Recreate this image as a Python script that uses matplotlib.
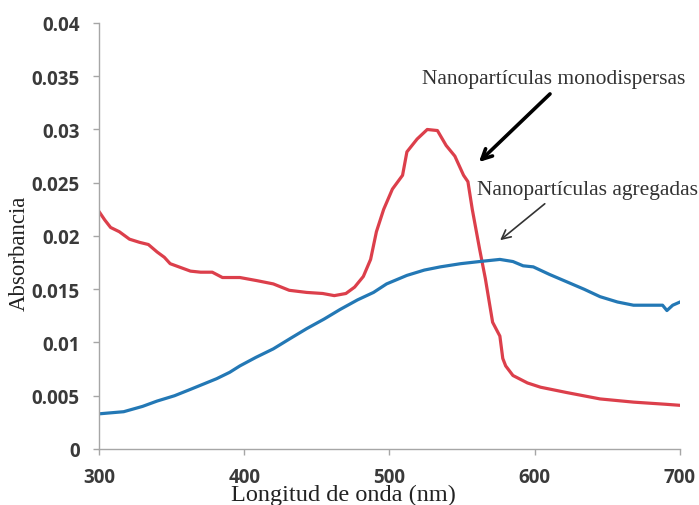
import matplotlib.pyplot as plt

# --- data ---
wl_red = [300, 304, 308, 314, 321, 328, 334, 340, 345, 349, 355, 363, 370, 378, 385, 397,
          409, 420, 431, 443, 454, 462, 470, 476, 482, 487, 491, 496, 502, 509, 512, 519,
          526, 533, 539, 545, 551, 554, 557, 562, 566, 571, 576, 578, 580, 585, 595, 604,
          622, 645, 668, 690, 700]
abs_red = [0.0223, 0.0215, 0.0208, 0.0204, 0.0197, 0.0194, 0.0192, 0.0185, 0.0180, 0.0174,
           0.0171, 0.0167, 0.0166, 0.0166, 0.0161, 0.0161, 0.0158, 0.0155, 0.0149, 0.0147,
           0.0146, 0.0144, 0.0146, 0.0152, 0.0162, 0.0178, 0.0204, 0.0225, 0.0244, 0.0257,
           0.0279, 0.0291, 0.0300, 0.0299, 0.0285, 0.0275, 0.0257, 0.0251, 0.0225, 0.0188,
           0.0160, 0.0119, 0.0106, 0.0085, 0.0078, 0.0069, 0.0062, 0.0058, 0.0053, 0.0047,
           0.0044, 0.0042, 0.0041]

wl_blue = [300, 317, 330, 340, 352, 363, 372, 381, 390, 397, 408, 420, 432, 443, 455, 466,
           478, 489, 498, 512, 524, 535, 549, 562, 576, 585, 592, 599, 610, 622, 634, 645,
           657, 668, 680, 688, 691, 695, 700]
abs_blue = [0.0033, 0.0035, 0.0040, 0.0045, 0.0050, 0.0056, 0.0061, 0.0066, 0.0072, 0.0078,
            0.0086, 0.0094, 0.0104, 0.0113, 0.0122, 0.0131, 0.0140, 0.0147, 0.0155, 0.0163,
            0.0168, 0.0171, 0.0174, 0.0176, 0.0178, 0.0176, 0.0172, 0.0171, 0.0164, 0.0157,
            0.0150, 0.0143, 0.0138, 0.0135, 0.0135, 0.0135, 0.0130, 0.0135, 0.0138]

x_ticks = [300, 400, 500, 600, 700]
y_ticks = [0, 0.005, 0.01, 0.015, 0.02, 0.025, 0.03, 0.035, 0.04]
y_labels = ['0', '0.005', '0.01', '0.015', '0.02', '0.025', '0.03', '0.035', '0.04']

# --- figure ---
fig = plt.figure(figsize=(6.99, 5.06), dpi=100)
ax = fig.add_axes([0.1416, 0.1107, 0.8312, 0.8419])

ax.plot(wl_red, abs_red, color='#dc3f4b', linewidth=2.3)
ax.plot(wl_blue, abs_blue, color='#2378b5', linewidth=2.3)

ax.set_xlim(300, 700)
ax.set_ylim(0, 0.04)
ax.set_xticks(x_ticks)
ax.set_yticks(y_ticks)
ax.set_yticklabels(y_labels)

for side in ['top', 'right']:
    ax.spines[side].set_visible(False)
for side in ['left', 'bottom']:
    ax.spines[side].set_color('#a6a6a6')
    ax.spines[side].set_linewidth(1)

ax.tick_params(colors='#a6a6a6', length=4, width=1, labelcolor='#3a3a3a')
for lab in ax.get_xticklabels() + ax.get_yticklabels():
    lab.set_fontfamily('Open Sans')
    lab.set_fontweight('bold')
    lab.set_fontsize(13.5)
ax.tick_params(axis='y', pad=10)
ax.tick_params(axis='x', pad=9)

# axis titles (serif, they overlap the tick labels like in the original)
fig.text(0.027, 0.50, 'Absorbancia', rotation=90, family='Liberation Serif',
         fontsize=16.5, ha='center', va='center', color='#222222')
fig.text(0.492, 0.021, 'Longitud de onda (nm)', family='Liberation Serif',
         fontsize=17.5, ha='center', va='center', color='#222222')

# annotations
ax.annotate('', xy=(560.2, 0.02676), xytext=(611.9, 0.03352),
            arrowprops=dict(arrowstyle='->', color='black', lw=2.6,
                            mutation_scale=18))
ax.annotate('', xy=(574.7, 0.01944), xytext=(608.4, 0.02319),
            arrowprops=dict(arrowstyle='->', color='#333333', lw=1.2,
                            mutation_scale=16))
ax.text(522.4, 0.0348, 'Nanopartículas monodispersas', family='Liberation Serif',
        fontsize=15.5, ha='left', va='center', color='#333333')
ax.text(560.2, 0.02441, 'Nanopartículas agregadas', family='Liberation Serif',
        fontsize=15.5, ha='left', va='center', color='#333333', clip_on=False)

fig.savefig('out.png', dpi=100)
